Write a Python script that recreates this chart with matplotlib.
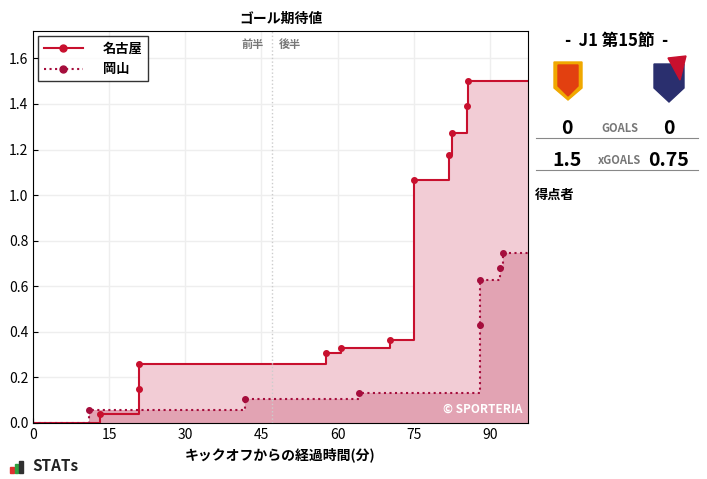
import matplotlib
matplotlib.use("Agg")
import matplotlib.pyplot as plt
from matplotlib.patches import Polygon, Rectangle

plt.rcParams['font.family'] = ['Noto Sans CJK JP', 'DejaVu Sans']

nagoya_t = [0, 13.2, 20.8, 20.8, 57.8, 60.6, 70.4, 75.1, 81.9, 82.5, 85.5, 85.7, 97.5]
nagoya_v = [0, 0.038, 0.148, 0.26, 0.309, 0.328, 0.365, 1.068, 1.174, 1.273, 1.392, 1.499, 1.499]
okayama_t = [0, 11.1, 41.7, 64.2, 88.0, 88.0, 92.0, 92.6, 97.5]
okayama_v = [0, 0.057, 0.105, 0.13, 0.43, 0.629, 0.68, 0.746, 0.746]
xticks = [0, 15, 30, 45, 60, 75, 90]
yticks = [0, 0.2, 0.4, 0.6, 0.8, 1.0, 1.2, 1.4, 1.6]
half_time = 47

fig = plt.figure(figsize=(7.07, 4.79), dpi=100)
ax = fig.add_axes([33/707, 1-423/479, 495/707, 392/479])
c1 = '#c8102e'; c2 = '#a50d3c'
ax.fill_between(nagoya_t, nagoya_v, step='post', color='#f2ccd5', lw=0)
ax.fill_between(okayama_t, okayama_v, step='post', color='#e2a3b3', lw=0)
ax.step(nagoya_t, nagoya_v, where='post', color=c1, lw=1.5)
ax.step(okayama_t, okayama_v, where='post', color=c2, lw=1.5, ls=':')
ax.plot(nagoya_t[1:-1], nagoya_v[1:-1], 'o', color=c1, ms=4)
ax.plot(okayama_t[1:-1], okayama_v[1:-1], 'o', color=c2, ms=4)
ax.plot([], [], '-o', color=c1, ms=5, lw=1.5, label='名古屋')
ax.plot([], [], ':o', color=c2, ms=5, lw=1.5, label='岡山')
ax.axvline(half_time, color='#cccccc', ls=':', lw=1)
ax.text(half_time-1.5, 1.66, '前半', ha='right', va='center', fontsize=8, color='#777777', fontweight='bold')
ax.text(half_time+1.5, 1.66, '後半', ha='left', va='center', fontsize=8, color='#777777', fontweight='bold')
ax.set_xlim(0, 97.5); ax.set_ylim(0, 1.72)
ax.set_xticks(xticks); ax.set_yticks(yticks)
ax.tick_params(direction='in', labelsize=10)
ax.grid(color='#eeeeee', lw=1)
ax.set_axisbelow(True)
ax.set_title('ゴール期待値', fontsize=10, fontweight='bold')
ax.set_xlabel('キックオフからの経過時間(分)', fontsize=10, fontweight='bold')
leg = ax.legend(loc='upper left', fancybox=False, edgecolor='black', handlelength=3, handletextpad=1.5,
                prop={'weight': 'bold', 'size': 9.5}, borderaxespad=0.4)
leg.get_frame().set_linewidth(1)
ax.text(96.5, 0.03, '© SPORTERIA', ha='right', va='bottom', fontsize=8.5, color='white', fontweight='bold')

# right panel
fig.text(617/707, 1-41/479, '-  J1 第15節  -', ha='center', va='center', fontsize=12, fontweight='bold')
lax = fig.add_axes([540/707, 1-110/479, 160/707, 55/479]); lax.axis('off')
lax.set_xlim(0, 160); lax.set_ylim(0, 55)
lax.add_patch(Polygon([[14, 48], [42, 48], [42, 22], [28, 10], [14, 22]], color='#f0a800'))
lax.add_patch(Polygon([[18, 45], [38, 45], [38, 24], [28, 14], [18, 24]], color='#e24010'))
lax.add_patch(Polygon([[114, 46], [144, 46], [144, 22], [129, 8], [114, 22]], color='#2a2f6e'))
lax.add_patch(Polygon([[128, 52], [146, 54], [140, 30]], color='#c8102e'))
fig.text(567/707, 1-128/479, '0', ha='center', va='center', fontsize=14, fontweight='bold')
fig.text(620/707, 1-128/479, 'GOALS', ha='center', va='center', fontsize=8, fontweight='bold', color='#777777')
fig.text(669/707, 1-128/479, '0', ha='center', va='center', fontsize=14, fontweight='bold')
fig.add_artist(plt.Line2D([536/707, 698/707], [1-138/479]*2, color='#888888', lw=0.8))
fig.text(567/707, 1-160/479, '1.5', ha='center', va='center', fontsize=14, fontweight='bold')
fig.text(619/707, 1-160/479, 'xGOALS', ha='center', va='center', fontsize=8, fontweight='bold', color='#777777')
fig.text(669/707, 1-160/479, '0.75', ha='center', va='center', fontsize=14, fontweight='bold')
fig.add_artist(plt.Line2D([536/707, 698/707], [1-170/479]*2, color='#888888', lw=0.8))
fig.text(535/707, 1-195/479, '得点者', ha='left', va='center', fontsize=9.5, fontweight='bold')

for i, (h, col) in enumerate([(6, '#e03030'), (9, '#30a040'), (12, '#303030')]):
    fig.add_artist(Rectangle(((10+i*4.5)/707, 1-473/479), 3.5/707, h/479, color=col))
fig.text(32/707, 1-466/479, 'STATs', ha='left', va='center', fontsize=11, fontweight='bold', color='#222222')

fig.savefig('out.png', dpi=100)
